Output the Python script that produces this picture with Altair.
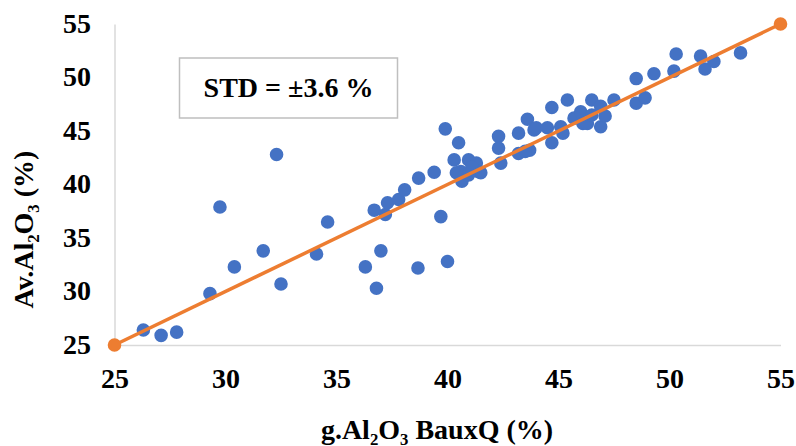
import altair as alt
import pandas as pd

# Grade of Al2O3 from BauxQ vs. available Al2O3 (%)
bauxq = [26.3, 27.1, 27.8, 29.3, 29.75, 30.4, 31.7, 32.3, 32.5, 34.1,
         34.6, 36.3, 36.8, 36.7, 37.0, 37.2, 37.3, 37.8, 38.07, 38.7,
         39.4, 39.9, 39.7, 40.0, 38.67, 40.5, 40.3, 40.6, 40.65, 40.95,
         41.3, 41.4, 41.5, 40.95, 40.4, 41.1, 42.3, 42.3, 42.4, 43.2,
         43.2, 43.6, 43.7, 43.5, 43.9, 44.0, 44.5, 44.7, 44.7, 45.1,
         45.2, 45.4, 45.7, 46.0, 46.1, 46.3, 46.5, 46.5, 46.9, 46.9,
         47.1, 47.5, 48.5, 48.5, 48.9, 49.3, 50.2, 50.3, 51.4, 51.6,
         52.0, 53.2]
available = [26.4, 25.9, 26.2, 29.8, 37.9, 32.3, 33.8, 42.8, 30.7, 33.5,
             36.5, 32.3, 30.3, 37.6, 33.8, 37.2, 38.3, 38.6, 39.5, 40.6,
             41.15, 45.2, 37.0, 32.8, 32.2, 43.9, 42.3, 41.2, 40.3, 42.3,
             42.0, 41.2, 41.1, 40.9, 41.1, 41.6, 44.5, 43.4, 42.0, 44.8,
             42.9, 46.1, 43.2, 43.1, 45.1, 45.3, 45.3, 47.2, 43.9, 45.4,
             44.8, 47.9, 46.2, 46.8, 45.7, 45.7, 47.9, 46.5, 47.3, 45.4,
             46.4, 47.9, 49.9, 47.6, 48.1, 50.35, 50.6, 52.2, 52.0, 50.8,
             51.5, 52.3]

# 1:1 reference line
line_x = [25, 55]
line_y = [25, 55]

tick_values = [25, 30, 35, 40, 45, 50, 55]
std_label = "STD = ±3.6 %"

pts = pd.DataFrame({"x": bauxq, "y": available})
ref = pd.DataFrame({"x": line_x, "y": line_y})

FONT = "Liberation Serif"
BLUE = "#4472C4"
ORANGE = "#ED7D31"

xscale = alt.Scale(domain=[25, 55], nice=False, zero=False)
yscale = alt.Scale(domain=[25, 55], nice=False, zero=False)

common_axis = dict(
    values=tick_values, grid=False, ticks=False, labelFlush=False,
    domainColor="#D9D9D9", domainWidth=1.5,
    labelFont=FONT, labelFontSize=28, labelFontWeight="bold", labelColor="black",
    titleFont=FONT, titleFontSize=28, titleFontWeight="bold", titleColor="black",
)

x_axis = alt.Axis(title="g.Al₂O₃ BauxQ (%)", labelPadding=20,
                  titleX=322, titleY=93, titleAlign="center",
                  titleBaseline="alphabetic", **common_axis)
y_axis = alt.Axis(title="Av.Al₂O₃ (%)", labelPadding=24,
                  titleX=-82, titleY=205, titleAlign="center",
                  titleBaseline="alphabetic", titleAngle=270, **common_axis)

points = alt.Chart(pts).mark_circle(size=185, color=BLUE, opacity=1).encode(
    x=alt.X("x:Q", scale=xscale, axis=x_axis),
    y=alt.Y("y:Q", scale=yscale, axis=y_axis),
)

line = alt.Chart(ref).mark_line(color=ORANGE, strokeWidth=3.5).encode(
    x=alt.X("x:Q", scale=xscale), y=alt.Y("y:Q", scale=yscale)
)
ends = alt.Chart(ref).mark_circle(size=185, color=ORANGE, opacity=1).encode(
    x=alt.X("x:Q", scale=xscale), y=alt.Y("y:Q", scale=yscale)
)

box = alt.Chart(pd.DataFrame({"t": [std_label]})).mark_rect(
    fill="white", stroke="#BFBFBF", strokeWidth=1.5
).encode(x=alt.value(65), x2=alt.value(283), y=alt.value(34), y2=alt.value(94))

label = alt.Chart(pd.DataFrame({"t": [std_label]})).mark_text(
    font=FONT, fontSize=28, fontWeight="bold", color="black",
    align="center", baseline="middle"
).encode(x=alt.value(174), y=alt.value(65), text="t:N")

chart = alt.layer(points, line, ends, box, label).properties(
    width=666, height=321,
    autosize=alt.AutoSizeParams(type="none"),
    padding={"left": 114.5, "top": 24, "right": 15.5, "bottom": 101},
).configure_view(stroke=None)

chart.save("out.html", embed_options={"renderer": "svg", "actions": False})
